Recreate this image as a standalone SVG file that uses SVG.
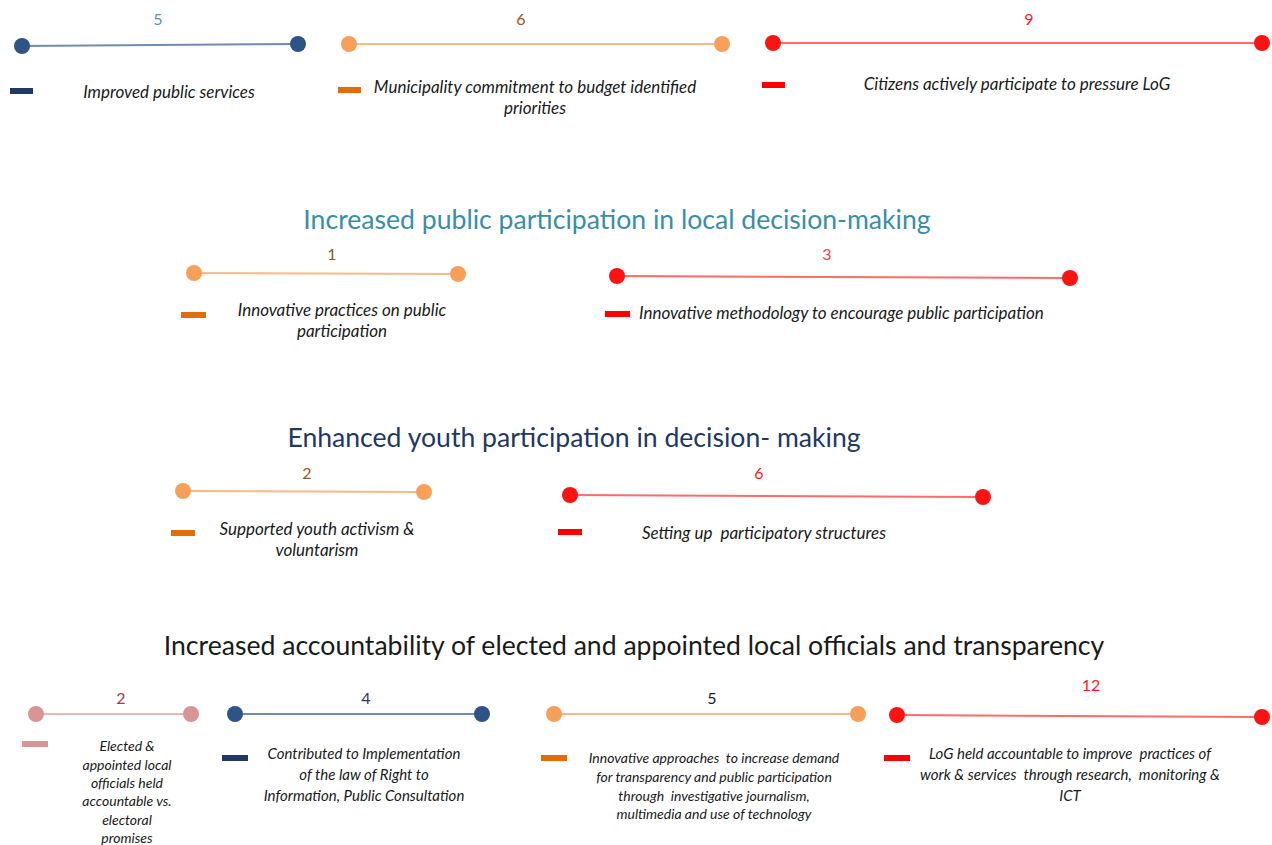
<svg xmlns="http://www.w3.org/2000/svg" width="1272" height="845" viewBox="0 0 1272 845">
<style>
text{font-family:Lato,"Open Sans","Liberation Sans",sans-serif}
.lbl{font-style:italic;font-size:17px;fill:#1a1a1a;text-anchor:middle}
.sm{font-style:italic;font-size:14px;fill:#1a1a1a;text-anchor:middle}
.md{font-style:italic;font-size:15px;fill:#1a1a1a;text-anchor:middle;white-space:pre}
.num{font-size:16px;text-anchor:middle}
.h{font-size:26.6px;text-anchor:middle}
.ln{stroke-width:2;fill:none}
.navyL{stroke:#6F8BB0}.navyD{fill:#2E5487}
.orL{stroke:#F8B888}.orD{fill:#F8A05A}
.redL{stroke:#FF6A6A}.redD{fill:#FF1212}
.pkL{stroke:#E7B8B7}.pkD{fill:#D99594}
</style>
<rect width="1272" height="845" fill="#fff"/>
<g id="connectors">
<line class="ln navyL" x1="22" y1="46" x2="298" y2="44"/>
<line class="ln orL" x1="349" y1="44" x2="722" y2="44"/>
<line class="ln redL" x1="773" y1="43" x2="1262" y2="43"/>
<line class="ln orL" x1="194" y1="273" x2="458" y2="274"/>
<line class="ln redL" x1="617" y1="276" x2="1070" y2="278"/>
<line class="ln orL" x1="183" y1="491" x2="424" y2="492"/>
<line class="ln redL" x1="570" y1="495" x2="983" y2="497"/>
<line class="ln pkL" x1="36" y1="714" x2="191" y2="714"/>
<line class="ln navyL" x1="235" y1="714" x2="482" y2="714"/>
<line class="ln orL" x1="554" y1="714" x2="858" y2="714"/>
<line class="ln redL" x1="897" y1="715" x2="1262" y2="717"/>
</g>
<g id="r1a">
<circle class="navyD" cx="22" cy="46" r="8"/><circle class="navyD" cx="298" cy="44" r="8"/>
<text class="num" x="158" y="25" fill="#5B8FD0">5</text>
<rect x="10" y="88" width="23" height="6" fill="#1F3864"/>
<text class="lbl" x="169" y="98">Improved public services</text>
</g>
<g id="r1b">
<circle class="orD" cx="349" cy="44" r="8"/><circle class="orD" cx="722" cy="44" r="8"/>
<text class="num" x="521" y="25" fill="#A0541E">6</text>
<rect x="338" y="87" width="23" height="6" fill="#E36C0A"/>
<text class="lbl" x="535" y="93">Municipality commitment to budget identified</text>
<text class="lbl" x="535" y="114">priorities</text>
</g>
<g id="r1c">
<circle class="redD" cx="773" cy="43" r="8"/><circle class="redD" cx="1262" cy="43" r="8"/>
<text class="num" x="1029" y="25" fill="#FF1A1A">9</text>
<rect x="762" y="82" width="23" height="6" fill="#FF0000"/>
<text class="lbl" x="1017" y="90">Citizens actively participate to pressure LoG</text>
</g>
<g id="h1"><text class="h" x="617" y="229" fill="#3A8EA8">Increased public participation in local decision-making</text></g>
<g id="r2a">
<circle class="orD" cx="194" cy="273" r="8"/><circle class="orD" cx="458" cy="274" r="8"/>
<text class="num" x="332" y="260" fill="#A0541E">1</text>
<rect x="181" y="312" width="25" height="6" fill="#E36C0A"/>
<text class="lbl" x="342" y="316">Innovative practices on public</text>
<text class="lbl" x="342" y="337">participation</text>
</g>
<g id="r2b">
<circle class="redD" cx="617" cy="276" r="8"/><circle class="redD" cx="1070" cy="278" r="8"/>
<text class="num" x="827" y="260" fill="#FF4040">3</text>
<rect x="605" y="311" width="25" height="6" fill="#FF0000"/>
<text class="lbl" x="639" y="319" style="text-anchor:start">Innovative methodology to encourage public participation</text>
</g>
<g id="h2"><text class="h" x="574" y="447" fill="#1F3864">Enhanced youth participation in decision- making</text></g>
<g id="r3a">
<circle class="orD" cx="183" cy="491" r="8"/><circle class="orD" cx="424" cy="492" r="8"/>
<text class="num" x="307" y="479" fill="#A0541E">2</text>
<rect x="171" y="530" width="24" height="6" fill="#E36C0A"/>
<text class="lbl" x="317" y="535">Supported youth activism &amp;</text>
<text class="lbl" x="317" y="556">voluntarism</text>
</g>
<g id="r3b">
<circle class="redD" cx="570" cy="495" r="8"/><circle class="redD" cx="983" cy="497" r="8"/>
<text class="num" x="759" y="479" fill="#FF1A1A">6</text>
<rect x="558" y="529" width="24" height="6" fill="#FF0000"/>
<text class="lbl" x="764" y="539" style="white-space:pre">Setting up  participatory structures</text>
</g>
<g id="h3"><text class="h" x="634" y="655" fill="#1a1a1a">Increased accountability of elected and appointed local officials and transparency</text></g>
<g id="r4a">
<circle class="pkD" cx="36" cy="714" r="8"/><circle class="pkD" cx="191" cy="714" r="8"/>
<text class="num" x="121" y="704" fill="#A0403E">2</text>
<rect x="22" y="741" width="26" height="6" fill="#D99594"/>
<text class="sm" x="127" y="751">Elected &amp;</text>
<text class="sm" x="127" y="770">appointed local</text>
<text class="sm" x="127" y="788">officials held</text>
<text class="sm" x="127" y="806">accountable vs.</text>
<text class="sm" x="127" y="825">electoral</text>
<text class="sm" x="127" y="843">promises</text>
</g>
<g id="r4b">
<circle class="navyD" cx="235" cy="714" r="8"/><circle class="navyD" cx="482" cy="714" r="8"/>
<text class="num" x="366" y="704" fill="#1F3864">4</text>
<rect x="222" y="755" width="26" height="6" fill="#1F3864"/>
<text class="md" x="364" y="759">Contributed to Implementation</text>
<text class="md" x="364" y="780">of the law of Right to</text>
<text class="md" x="364" y="801">Information, Public Consultation</text>
</g>
<g id="r4c">
<circle class="orD" cx="554" cy="714" r="8"/><circle class="orD" cx="858" cy="714" r="8"/>
<text class="num" x="712" y="704" fill="#1a1a1a">5</text>
<rect x="541" y="755" width="26" height="6" fill="#E36C0A"/>
<text class="sm" x="714" y="763" style="white-space:pre">Innovative approaches  to increase demand</text>
<text class="sm" x="714" y="782">for transparency and public participation</text>
<text class="sm" x="714" y="801" style="white-space:pre">through  investigative journalism,</text>
<text class="sm" x="714" y="819">multimedia and use of technology</text>
</g>
<g id="r4d">
<circle class="redD" cx="897" cy="715" r="8"/><circle class="redD" cx="1262" cy="717" r="8"/>
<text class="num" x="1091" y="691" fill="#FF1A1A">12</text>
<rect x="884" y="755" width="26" height="6" fill="#FF0000"/>
<text class="md" x="1070" y="759">LoG held accountable to improve  practices of</text>
<text class="md" x="1070" y="780">work &amp; services  through research,  monitoring &amp;</text>
<text class="md" x="1070" y="801">ICT</text>
</g>
</svg>
